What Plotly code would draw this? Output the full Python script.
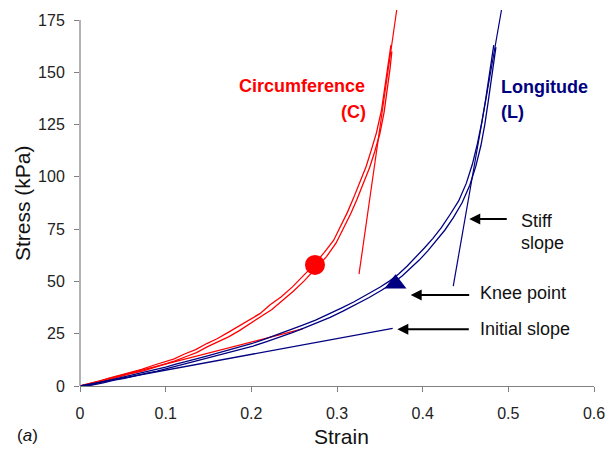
import plotly.graph_objects as go

# Circumferential direction: loading / unloading traces
circ_a_strain = [0, 0.010, 0.022, 0.035, 0.048, 0.060, 0.072, 0.085, 0.098, 0.110,
                 0.122, 0.135, 0.148, 0.160, 0.172, 0.185, 0.198, 0.210, 0.222, 0.235,
                 0.248, 0.260, 0.273, 0.285, 0.296, 0.304, 0.312, 0.319, 0.327, 0.334,
                 0.340, 0.346, 0.352, 0.356, 0.360, 0.363]
circ_a_stress = [0, 1.0, 2.2, 3.9, 5.3, 6.3, 7.9, 9.8, 11.4, 13.0,
                 15.3, 17.4, 20.3, 22.6, 25.4, 28.6, 31.8, 34.6, 38.9, 42.7,
                 47.4, 52.3, 57.9, 63.8, 69.6, 76.3, 82.9, 89.6, 97.4, 105.0,
                 112.8, 121.0, 132.0, 143.5, 154.0, 163.0]
circ_b_strain = [0, 0.012, 0.024, 0.036, 0.049, 0.061, 0.074, 0.086, 0.099, 0.111,
                 0.124, 0.136, 0.149, 0.161, 0.174, 0.186, 0.199, 0.211, 0.224, 0.236,
                 0.249, 0.262, 0.275, 0.288, 0.299, 0.308, 0.316, 0.323, 0.331, 0.338,
                 0.344, 0.350, 0.355, 0.359, 0.362, 0.364]
circ_b_stress = [0, 0.8, 2.1, 3.2, 4.7, 6.1, 7.2, 8.8, 10.5, 12.0,
                 14.1, 16.0, 18.8, 21.2, 23.6, 26.5, 29.9, 33.0, 36.6, 40.8,
                 45.3, 50.4, 56.2, 62.0, 68.4, 75.5, 82.4, 88.9, 96.7, 104.4,
                 112.0, 120.6, 131.0, 142.0, 152.0, 160.0]

# Longitudinal direction: loading / unloading traces
long_a_strain = [0, 0.012, 0.025, 0.038, 0.050, 0.062, 0.075, 0.088, 0.100, 0.112,
                 0.125, 0.138, 0.150, 0.162, 0.175, 0.188, 0.200, 0.215, 0.230, 0.245,
                 0.260, 0.275, 0.290, 0.305, 0.320, 0.335, 0.350, 0.362, 0.372, 0.382,
                 0.392, 0.402, 0.412, 0.422, 0.432, 0.442, 0.451, 0.458, 0.464, 0.469,
                 0.4735, 0.477, 0.480, 0.483]
long_a_stress = [0, 0.6, 1.9, 3.1, 4.4, 5.3, 6.6, 7.9, 9.0, 10.5,
                 11.7, 13.2, 14.5, 15.9, 17.3, 18.6, 20.2, 22.3, 24.5, 26.6,
                 29.1, 31.5, 34.2, 37.2, 40.3, 43.6, 47.2, 50.4, 53.6, 57.4,
                 61.6, 66.0, 70.6, 75.8, 82.0, 88.5, 97.0, 106.0, 116.0, 126.0,
                 137.0, 147.5, 156.0, 163.0]
long_b_strain = [0, 0.014, 0.027, 0.040, 0.052, 0.064, 0.077, 0.090, 0.102, 0.114,
                 0.127, 0.140, 0.152, 0.164, 0.177, 0.190, 0.202, 0.217, 0.232, 0.247,
                 0.262, 0.277, 0.292, 0.307, 0.322, 0.337, 0.352, 0.365, 0.376, 0.386,
                 0.396, 0.406, 0.416, 0.426, 0.436, 0.446, 0.455, 0.462, 0.468, 0.4725,
                 0.4765, 0.480, 0.483, 0.4855]
long_b_stress = [0, 0.4, 1.5, 2.8, 3.6, 4.9, 6.0, 7.1, 8.4, 9.6,
                 10.9, 12.3, 13.5, 15.0, 16.3, 17.7, 19.1, 21.1, 23.2, 25.4,
                 27.8, 30.2, 32.8, 35.8, 38.9, 42.2, 45.8, 49.2, 52.6, 56.2,
                 60.2, 64.6, 69.4, 74.6, 80.6, 87.6, 96.0, 105.0, 115.0, 125.0,
                 136.0, 146.5, 156.0, 162.0]

# Fitted slopes (start / end points)
circ_init_strain = [0, 0.26]
circ_init_stress = [0, 27.3]
circ_stiff_strain = [0.3257, 0.3697]
circ_stiff_stress = [53.5, 179.8]
long_init_strain = [0, 0.365]
long_init_stress = [0, 27.6]
long_stiff_strain = [0.4357, 0.492]
long_stiff_stress = [47.8, 179.8]

# Knee points
circ_knee = (0.2743, 57.9)
long_knee = (0.3683, 48.9)

x_ticks = [0, 0.1, 0.2, 0.3, 0.4, 0.5, 0.6]
y_ticks = [0, 25, 50, 75, 100, 125, 150, 175]

RED = "#FF0000"
NAVY = "#000080"
FONT = "Liberation Sans, Arial, sans-serif"
Y_TOP = 184.57

fig = go.Figure()

def add_line(xs, ys, color, width):
    fig.add_trace(go.Scatter(x=xs, y=ys, mode="lines",
                             line=dict(color=color, width=width),
                             hoverinfo="skip", showlegend=False))

add_line(circ_a_strain, circ_a_stress, RED, 1.3)
add_line(circ_b_strain, circ_b_stress, RED, 1.3)
add_line(circ_init_strain, circ_init_stress, RED, 1.3)
add_line(circ_stiff_strain, circ_stiff_stress, RED, 1.2)
add_line(long_a_strain, long_a_stress, NAVY, 1.3)
add_line(long_b_strain, long_b_stress, NAVY, 1.3)
add_line(long_init_strain, long_init_stress, NAVY, 1.3)
add_line(long_stiff_strain, long_stiff_stress, NAVY, 1.2)

fig.add_trace(go.Scatter(x=[circ_knee[0]], y=[circ_knee[1]], mode="markers",
                         marker=dict(symbol="circle", size=20, color=RED),
                         hoverinfo="skip", showlegend=False))
fig.add_trace(go.Scatter(x=[long_knee[0]], y=[long_knee[1]], mode="markers",
                         marker=dict(symbol="triangle-up", size=19, color=NAVY),
                         hoverinfo="skip", showlegend=False))

annotations = []

def label(x, y, text, color="#111111", size=18, bold=False, xanchor="left"):
    t = f"<b>{text}</b>" if bold else text
    annotations.append(dict(x=x, y=y, xref="x", yref="y", text=t, showarrow=False,
                            xanchor=xanchor, yanchor="middle",
                            font=dict(family=FONT, size=size, color=color)))

label(0.335, 143.4, "Circumference", RED, 18, True, "right")
label(0.3362, 131.2, "(C)", RED, 18, True, "right")
label(0.4891, 143.1, "Longitude", NAVY, 18, True)
label(0.4891, 131.2, "(L)", NAVY, 18, True)
label(0.5128, 79.0, "Stiff")
label(0.5128, 68.2, "slope")
label(0.4642, 44.3, "Knee point")
label(0.4649, 27.3, "Initial slope")

# Pointer arrows (tip in data units, tail offset in pixels)
for tx, ty, ax in [(0.4544, 79.85, 39), (0.386, 43.5, 60), (0.3704, 27.1, 73)]:
    annotations.append(dict(x=tx, y=ty, xref="x", yref="y", text="",
                            showarrow=True, ax=ax, ay=0, arrowhead=2,
                            arrowsize=1.1, arrowwidth=2, arrowcolor="#000000",
                            standoff=0))

# Axis titles and panel tag
annotations.append(dict(x=-0.1128, y=0.474, xref="paper", yref="paper",
                        xanchor="center", yanchor="middle",
                        text="Stress (kPa)", textangle=-90, showarrow=False,
                        font=dict(family=FONT, size=21, color="#111111")))
annotations.append(dict(x=0.5097, y=-0.132, xref="paper", yref="paper",
                        xanchor="center", yanchor="middle",
                        text="Strain", showarrow=False,
                        font=dict(family=FONT, size=21, color="#111111")))
annotations.append(dict(x=-0.1012, y=-0.127, xref="paper", yref="paper",
                        xanchor="center", yanchor="middle",
                        text="(<i>a</i>)", showarrow=False,
                        font=dict(family=FONT, size=17, color="#111111")))

# Left axis line only up to the top tick
fig.add_shape(type="line", xref="paper", yref="paper", x0=0, x1=0,
              y0=0, y1=175 / Y_TOP, line=dict(color="#808080", width=1.2))

fig.update_layout(
    width=609, height=450,
    margin=dict(l=80, r=15, t=0, b=64),
    paper_bgcolor="white", plot_bgcolor="white",
    annotations=annotations,
    xaxis=dict(range=[0, 0.6], tickvals=x_ticks, ticktext=[f"{v:g}" for v in x_ticks],
               showgrid=False, zeroline=False, showline=True, linecolor="#808080",
               linewidth=1.2, ticks="outside", ticklen=5, tickcolor="#808080",
               ticklabelstandoff=8,
               tickfont=dict(family=FONT, size=16, color="#222222")),
    yaxis=dict(range=[0, Y_TOP], tickvals=y_ticks, showgrid=False, zeroline=False,
               showline=False, ticks="outside", ticklen=5, tickcolor="#808080",
               ticklabelstandoff=6,
               tickfont=dict(family=FONT, size=16, color="#222222")),
)

fig.write_html("out.html")
